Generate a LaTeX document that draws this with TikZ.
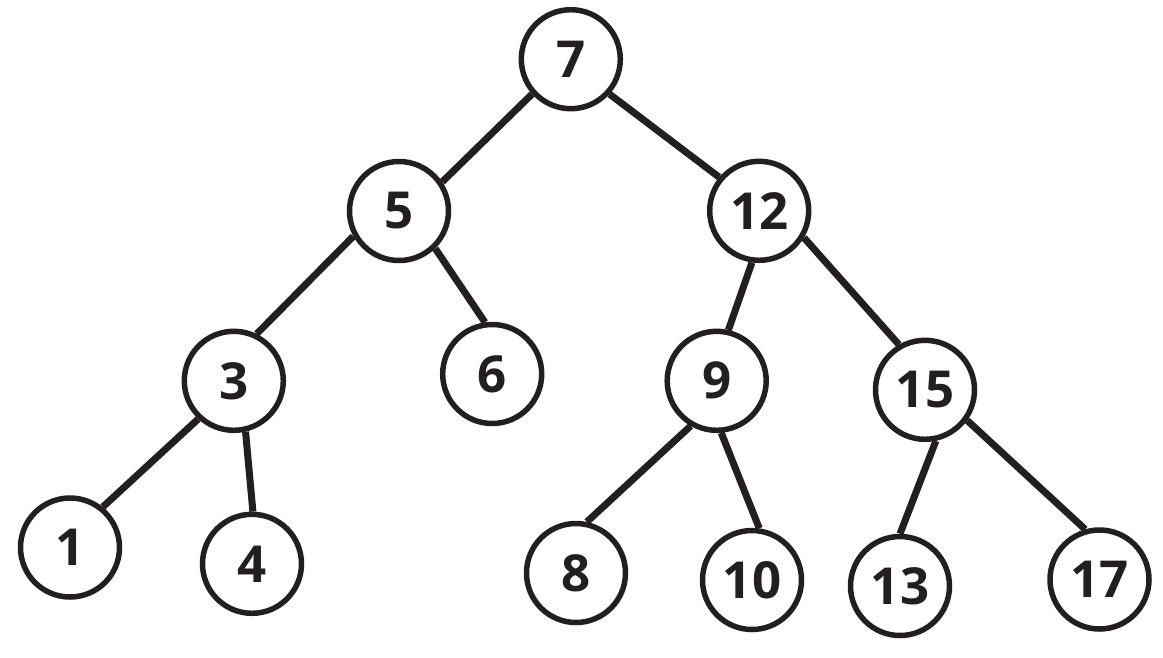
\documentclass[tikz,border=0pt]{standalone}
\usepackage{xcolor}
\usepackage{fontspec}
\setmainfont{Open Sans}
\definecolor{ink}{HTML}{231F20}
\tikzset{vertex/.style={draw=ink,circle,line width=5.5pt,minimum size=99pt,inner sep=0pt,text=ink,#1}}
\tikzset{vertex/.default={fill=white}}
\tikzset{branch/.style={draw=ink,line width=7pt}}
\tikzset{font={\fontsize{51pt}{60pt}\selectfont\bfseries}}

\begin{document}
\begin{tikzpicture}[x=1pt,y=-1pt]
        \useasboundingbox (0,0) rectangle (1163,657);
        \foreach \n/\x/\y in {7/570.8/59.2, 5/399/211, 12/759.2/210.8, 3/233.8/380.8, 6/492.2/374, 9/716.7/380.8, 15/925/389.8, 1/70/547.5, 4/252/563.8, 8/576/573, 10/752/580, 13/900/586, 17/1099.5/579.5}{
            \node[vertex] (n\n) at (\x,\y) {\n};
        }
        \foreach \a/\b/\s/\t in {7/5/222/34, 7/12/318/140, 5/3/209/64, 5/6/314/98, 12/9/262/77, 12/15/329/120, 3/1/227/51, 3/4/283/89, 9/8/240/78, 9/10/275/82, 15/13/282/90, 15/17/324/106}{
            \path[branch] (n\a.\s) -- (n\b.\t);
        }
    \end{tikzpicture}
\end{document}
